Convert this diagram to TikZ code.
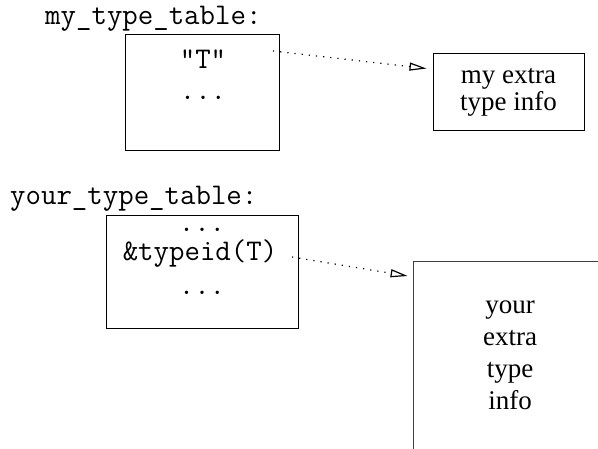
\documentclass[tikz,border=0pt]{standalone}
\usepackage{fontspec}
\setmainfont{Liberation Serif}
\usetikzlibrary{arrows.meta}

\begin{document}
\begin{tikzpicture}[
  x=1pt,y=-1pt,
  code/.style={font=\ttfamily\fontsize{30}{34}\selectfont,inner sep=0pt},
  tab/.style={draw,line width=1pt,minimum width=154pt,minimum height=116pt,inner sep=0pt},
  info/.style={draw,line width=1pt,align=center,inner sep=0pt,font=\fontsize{27}{27}\selectfont},
  ref/.style={-{Triangle[open,length=17pt,width=8pt]},line width=1.2pt,dash pattern=on 1.2pt off 6pt},
]
\useasboundingbox (0,0) rectangle (598,449);
\clip (0,0) rectangle (598,449);
% my table, top
\node[code,anchor=west] (mylab) at (45,19) {my\_type\_table:};
\node[tab] (mytab) at (202,93) {};
\node[code,anchor=base] (mystr) at (203,69) {"T"};
\node[code,anchor=base] (mydots) at (203,100) {...};
\node[info,minimum width=151pt,minimum height=77pt] (myinfo) at (508.5,92.5) {my extra\\type info};
% your table, below
\node[code,anchor=west] (yourlab) at (10,199) {your\_type\_table:};
\node[tab,minimum width=192pt,minimum height=113pt] (yourtab) at (202,272.5) {};
\node[code,anchor=base] (yourdots) at (202,232) {...};
\node[code,anchor=base] (yourid) at (200,261) {\&typeid(T)};
\node[code,anchor=base] (yourdots2) at (202,295) {...};
\node[info,draw=black!75,line width=0.8pt,minimum width=194pt,minimum height=188pt,
      font=\fontsize{27}{32}\selectfont] (yourinfo) at (510,355) {your\\extra\\type\\info};
% ---- references ----
\coordinate (myref) at (273,51);
\coordinate (yourref) at (292,257);
\draw[ref] (myref) -- ([xshift=-6pt,yshift=24pt]myinfo.west);
\draw[ref] (yourref) -- ([xshift=-5pt,yshift=79pt]yourinfo.west);
\end{tikzpicture}
\end{document}
